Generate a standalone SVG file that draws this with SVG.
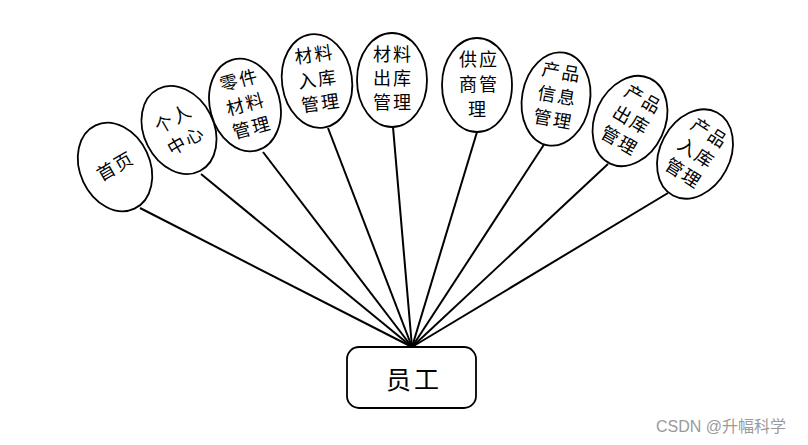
<svg xmlns="http://www.w3.org/2000/svg" width="808" height="445" viewBox="0 0 808 445">
<style>
.bg{fill:#ffffff}
.el{fill:#ffffff;stroke:#000000;stroke-width:1.8}
.box{fill:#ffffff;stroke:#000000;stroke-width:1.8}
.t{font-family:"Noto Sans CJK SC","Liberation Sans",sans-serif;font-size:18px;fill:#000000;text-anchor:middle;letter-spacing:2px}
.big{font-size:25px;letter-spacing:3px}
.wm{font-family:"Liberation Sans","Noto Sans CJK SC",sans-serif;font-size:16px;fill:#9a9a9a}
#connectors line{stroke:#000000;stroke-width:2}
</style>
<rect class="bg" x="0" y="0" width="808" height="445"/>
<g id="connectors">
<line x1="140" y1="208" x2="412" y2="347"/>
<line x1="201" y1="174" x2="412" y2="347"/>
<line x1="263" y1="152" x2="412" y2="347"/>
<line x1="328" y1="128" x2="412" y2="347"/>
<line x1="393" y1="127" x2="412" y2="347"/>
<line x1="477" y1="132" x2="412" y2="347"/>
<line x1="545" y1="143" x2="412" y2="347"/>
<line x1="608" y1="164" x2="412" y2="347"/>
<line x1="668" y1="193" x2="412" y2="347"/>
</g>
<g id="n1" transform="translate(115,167) rotate(-25)">
<ellipse class="el" cx="0" cy="0" rx="35" ry="46"/>
<text class="t" x="1" y="6" transform="rotate(-5)">首页</text>
</g>
<g id="n2" transform="translate(179,130) rotate(-27)">
<ellipse class="el" cx="0" cy="0" rx="35" ry="46"/>
<text class="t" x="1" y="-6" transform="rotate(-3)">个人</text>
<text class="t" x="1" y="19" transform="rotate(-3)">中心</text>
</g>
<g id="n3" transform="translate(245,105) rotate(-15)">
<ellipse class="el" cx="0" cy="0" rx="35" ry="47"/>
<text class="t" x="1" y="-19">零件</text>
<text class="t" x="1" y="6">材料</text>
<text class="t" x="1" y="30">管理</text>
</g>
<g id="n4" transform="translate(317,81) rotate(-8)">
<ellipse class="el" cx="0" cy="0" rx="35" ry="47"/>
<text class="t" x="1" y="-20">材料</text>
<text class="t" x="1" y="5">入库</text>
<text class="t" x="1" y="29">管理</text>
</g>
<g id="n5" transform="translate(392,80)">
<ellipse class="el" cx="0" cy="0" rx="35" ry="47"/>
<text class="t" x="1" y="-19">材料</text>
<text class="t" x="1" y="5">出库</text>
<text class="t" x="1" y="29">管理</text>
</g>
<g id="n6" transform="translate(477,85)">
<ellipse class="el" cx="0" cy="0" rx="35" ry="47"/>
<text class="t" x="2" y="-19">供应</text>
<text class="t" x="2" y="6">商管</text>
<text class="t" x="1" y="31">理</text>
</g>
<g id="n7" transform="translate(556,99) rotate(10)">
<ellipse class="el" cx="0" cy="0" rx="34" ry="47"/>
<text class="t" x="1" y="-21">产品</text>
<text class="t" x="1" y="3">信息</text>
<text class="t" x="1" y="27">管理</text>
</g>
<g id="n8" transform="translate(630,121) rotate(25)">
<ellipse class="el" cx="0" cy="0" rx="35" ry="47"/>
<text class="t" x="1" y="-19" transform="rotate(5)">产品</text>
<text class="t" x="1" y="5" transform="rotate(5)">出库</text>
<text class="t" x="1" y="29" transform="rotate(5)">管理</text>
</g>
<g id="n9" transform="translate(695,154) rotate(28)">
<ellipse class="el" cx="0" cy="0" rx="35" ry="47"/>
<text class="t" x="1" y="-19" transform="rotate(5)">产品</text>
<text class="t" x="1" y="5" transform="rotate(5)">入库</text>
<text class="t" x="1" y="29" transform="rotate(5)">管理</text>
</g>
<g id="n10">
<rect class="box" x="347" y="347" width="129" height="61" rx="12" ry="12"/>
<text class="t big" x="414" y="389">员工</text>
</g>
<text class="wm" x="656" y="432">CSDN @升幅科学</text>
</svg>
